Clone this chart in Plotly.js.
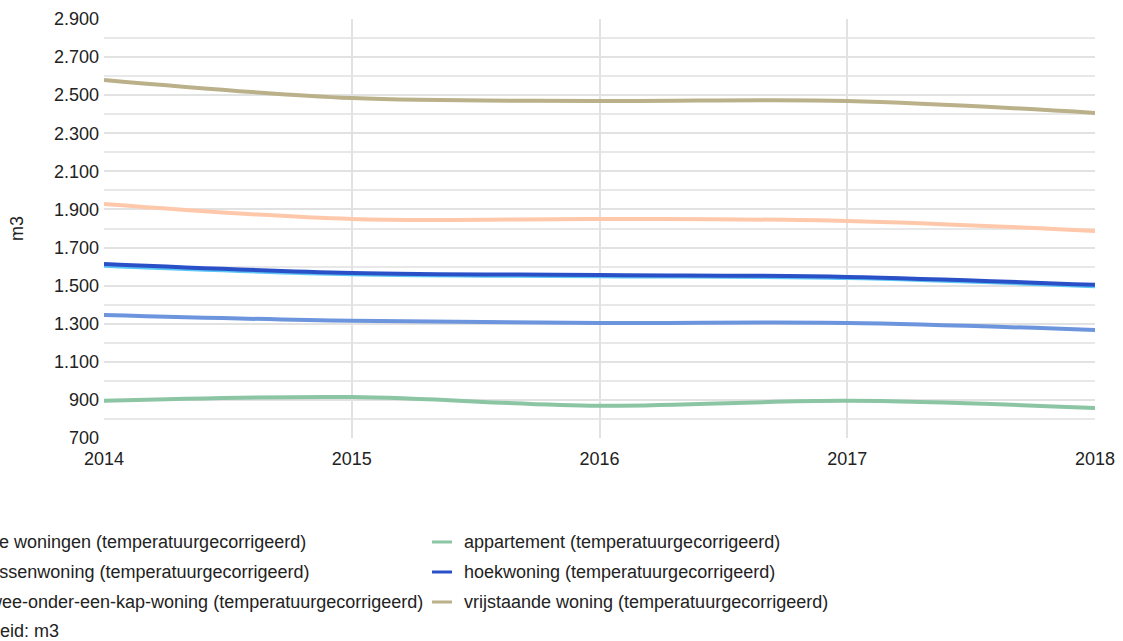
<!DOCTYPE html>
<html>
<head>
<meta charset="utf-8">
<script src="https://cdn.plot.ly/plotly-3.0.1.min.js"></script>
<style>html,body{margin:0;padding:0;background:#fff;}#chart{width:1123px;height:641px;}</style>
</head>
<body>
<div id="chart"></div>
<script>
// ---- data ----
const years = [2014, 2015, 2016, 2017, 2018];
const seriesNames = [
  "Alle woningen (temperatuurgecorrigeerd)",
  "appartement (temperatuurgecorrigeerd)",
  "Tussenwoning (temperatuurgecorrigeerd)",
  "hoekwoning (temperatuurgecorrigeerd)",
  "Twee-onder-een-kap-woning (temperatuurgecorrigeerd)",
  "vrijstaande woning (temperatuurgecorrigeerd)"
];
const alleWoningen   = [1602, 1557, 1547, 1537, 1494];
const appartement    = [895, 915, 869, 895, 858];
const tussenwoning   = [1346, 1315, 1304, 1304, 1267];
const hoekwoning     = [1614, 1567, 1556, 1546, 1504];
const tweeOnder      = [1929, 1850, 1850, 1840, 1787];
const vrijstaande    = [2580, 2485, 2470, 2470, 2407];
const unitLabel = "Eenheid: m3";
const yTitle = "m3";

const colors = ["#5cc6f5", "#8cc5a4", "#6c95dd", "#2a50c8", "#ffc8ab", "#bab089"];
const values = [alleWoningen, appartement, tussenwoning, hoekwoning, tweeOnder, vrijstaande];

const traces = values.map((v, i) => ({
  type: "scatter", mode: "lines", x: years, y: v, name: seriesNames[i],
  line: {color: colors[i], width: i === 0 ? 3 : 4, shape: "spline", smoothing: 1},
  showlegend: false, hoverinfo: "skip"
}));

// ---- layout geometry (pixels) ----
const W = 1123, H = 641, L = 104, R = 28, T = 19, B = 203;
const pw = W - L - R, ph = H - T - B;
const px = x => (x - L) / pw;
const py = y => (H - B - y) / ph;

const legendCols = [-23, 462];
const legendRows = [542, 572, 602];
const annotations = [];
const shapes = [];
seriesNames.forEach((name, i) => {
  const c = i % 2, r = Math.floor(i / 2);
  annotations.push({
    xref: "paper", yref: "paper", x: px(legendCols[c]), y: py(legendRows[r]),
    xanchor: "left", yanchor: "middle", showarrow: false, text: name,
    font: {family: "Liberation Sans, Arial, sans-serif", size: 18, color: "#222"}
  });
  shapes.push({
    type: "line", xref: "paper", yref: "paper",
    x0: px(legendCols[c] - 30), x1: px(legendCols[c] - 10),
    y0: py(legendRows[r]), y1: py(legendRows[r]),
    line: {color: colors[i], width: 3}
  });
});
annotations.push({
  xref: "paper", yref: "paper", x: px(-44), y: py(631),
  xanchor: "left", yanchor: "middle", showarrow: false, text: unitLabel,
  font: {family: "Liberation Sans, Arial, sans-serif", size: 18, color: "#222"}
});

const layout = {
  width: W, height: H,
  margin: {l: L, r: R, t: T, b: B, autoexpand: false},
  paper_bgcolor: "#fff", plot_bgcolor: "#fff",
  separators: ",.",
  font: {family: "Liberation Sans, Arial, sans-serif", size: 18, color: "#222"},
  xaxis: {
    range: [2014, 2018], dtick: 1, tick0: 2014, tickformat: "d",
    showgrid: true, gridcolor: "#e2e2e2", gridwidth: 2,
    zeroline: false, showline: false, ticks: "", ticklabelstandoff: 8,
    fixedrange: true
  },
  yaxis: {
    range: [700, 2900], dtick: 200, tick0: 700, tickformat: ",d",
    showgrid: true, gridcolor: "#e2e2e2", gridwidth: 2,
    minor: {dtick: 100, tick0: 700, showgrid: true, gridcolor: "#e8e8e8", gridwidth: 2},
    zeroline: false, showline: false, ticks: "", ticklabelstandoff: 4,
    title: {text: yTitle, standoff: 25, font: {size: 18, color: "#222"}},
    automargin: false, fixedrange: true
  },
  annotations: annotations,
  shapes: shapes,
  showlegend: false
};

Plotly.newPlot("chart", traces, layout, {displayModeBar: false, staticPlot: true});
</script>
</body>
</html>
